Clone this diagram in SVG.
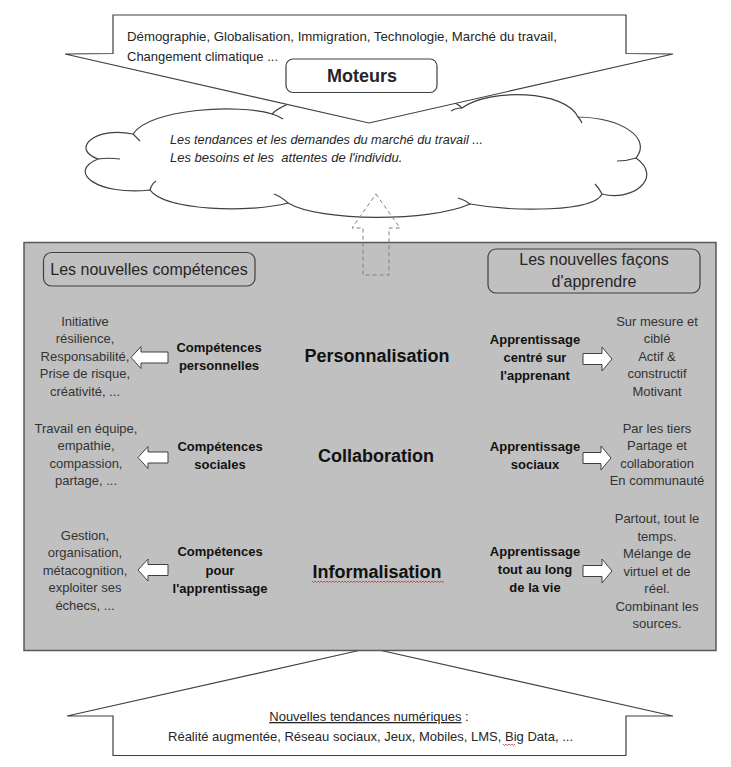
<svg xmlns="http://www.w3.org/2000/svg" width="731" height="767" viewBox="0 0 731 767">
<style>
  text { font-family: "Liberation Sans", Arial, sans-serif; fill: #262626; }
  .ln { fill: none; stroke: #404040; stroke-width: 1.2; }
  .wf { fill: #ffffff; stroke: #404040; stroke-width: 1.2; }
  .sm { font-size: 13px; }
  .li { font-size: 13px; text-anchor: middle; fill: #333333; }
  .lb { font-size: 13px; font-weight: bold; text-anchor: middle; fill: #111111; }
  .mid { font-size: 18px; font-weight: bold; text-anchor: middle; fill: #111111; }
  .hd { font-size: 16px; text-anchor: middle; fill: #262626; }
  .sq { fill: none; stroke: #d03030; stroke-width: 0.8; }
  .arr { fill: #ffffff; stroke: #404040; stroke-width: 1; }
</style>
<rect x="0" y="0" width="731" height="767" fill="#ffffff"/>

<g id="cloud">
  <path class="wf" d="M133,134 C150,108 240,104 272,114 C300,85 440,85 462,108 C490,88 565,90 578,117 C622,118 652,138 636,158 C664,178 632,202 602,194 C594,212 515,212 470,204 C430,222 320,222 288,203 C250,213 165,211 150,190 C98,196 66,172 98,159 C70,149 95,126 133,134 Z"/>
  <path class="ln" d="M272,114 C276,115 280,117 283,119 M462,108 C458,108 454,109 451,111 M578,117 C580,119 581,121 582,123 M636,158 C630,160 624,161 617,161 M602,194 C600,190 598,187 595,184 M470,204 C466,201 462,199 458,198 M288,203 C284,199 279,196 274,194 M150,190 C151,186 153,183 156,181 M98,159 C105,158 112,158 120,159 M133,134 C135,136 137,138 140,141"/>
  <text class="sm" x="170" y="144" font-style="italic" textLength="313" lengthAdjust="spacingAndGlyphs">Les tendances et les demandes du marché du travail ...</text>
  <text class="sm" x="170" y="162" font-style="italic" xml:space="preserve">Les besoins et les  attentes de l'individu.</text>
</g>

<g id="moteurs-arrow">
  <polygon class="wf" points="113,15 626,15 626,53.5 673,54 369,123 65,54 113,53.5"/>
  <text class="sm" x="127" y="41" textLength="430" lengthAdjust="spacingAndGlyphs">Démographie, Globalisation, Immigration, Technologie, Marché du travail,</text>
  <text class="sm" x="127" y="61">Changement climatique ...</text>
</g>

<g id="moteurs">
  <rect class="wf" x="286" y="59" width="151" height="33.5" rx="7"/>
  <text x="362" y="82" text-anchor="middle" font-size="18" font-weight="bold" fill="#111111">Moteurs</text>
</g>

<g id="numerique-arrow">
  <polygon class="wf" points="370,648 673,716 626,716 626,755.5 113,755.5 113,716 67,716"/>
  <text class="sm" x="369" y="721" text-anchor="middle"><tspan text-decoration="underline">Nouvelles tendances numériques</tspan> :</text>
  <text class="sm" x="168" y="741" textLength="405" lengthAdjust="spacingAndGlyphs">Réalité augmentée, Réseau sociaux, Jeux, Mobiles, LMS, Big Data, ...</text>
  <path class="sq" d="M503,744 l1.5,1.5 l1.5,-1.5 l1.5,1.5 l1.5,-1.5 l1.5,1.5 l1.5,-1.5 l1.5,1.5 l1.5,-1.5"/>
</g>

<g id="panel">
  <rect x="24" y="242.5" width="692" height="408" fill="#c0c0c0" stroke="#595959" stroke-width="1.5"/>
</g>

<g id="nouvelles-competences">
  <rect class="ln" x="43.5" y="252.5" width="211.5" height="33.5" rx="8"/>
  <text class="hd" x="149" y="275">Les nouvelles compétences</text>
</g>

<g id="nouvelles-facons">
  <rect class="ln" x="488" y="249" width="212" height="44" rx="8"/>
  <text class="hd" x="594" y="265">Les nouvelles façons</text>
  <text class="hd" x="594" y="287">d'apprendre</text>
</g>

<g id="row-personnalisation">
  <text class="li"><tspan x="85" y="325.5">Initiative</tspan><tspan x="85" y="343">résilience,</tspan><tspan x="85" y="360.5">Responsabilité,</tspan><tspan x="85" y="378">Prise de risque,</tspan><tspan x="85" y="395.5">créativité, ...</tspan></text>
  <text class="lb"><tspan x="219" y="351.5">Compétences</tspan><tspan x="219" y="369.5">personnelles</tspan></text>
  <text class="mid" x="377" y="361.5">Personnalisation</text>
  <text class="lb"><tspan x="535" y="343.5">Apprentissage</tspan><tspan x="535" y="361.5">centré sur</tspan><tspan x="535" y="379.5">l'apprenant</tspan></text>
  <text class="li"><tspan x="657" y="325.5">Sur mesure et</tspan><tspan x="657" y="343">ciblé</tspan><tspan x="657" y="360.5">Actif &amp;</tspan><tspan x="657" y="378">constructif</tspan><tspan x="657" y="395.5">Motivant</tspan></text>
</g>

<g id="row-collaboration">
  <text class="li"><tspan x="86" y="432.5">Travail en équipe,</tspan><tspan x="86" y="450">empathie,</tspan><tspan x="86" y="467.5">compassion,</tspan><tspan x="86" y="485">partage, ...</tspan></text>
  <text class="lb"><tspan x="220" y="451">Compétences</tspan><tspan x="220" y="469">sociales</tspan></text>
  <text class="mid" x="376" y="461.5">Collaboration</text>
  <text class="lb"><tspan x="535" y="451">Apprentissage</tspan><tspan x="535" y="469">sociaux</tspan></text>
  <text class="li"><tspan x="657" y="432.5">Par les tiers</tspan><tspan x="657" y="450">Partage et</tspan><tspan x="657" y="467.5">collaboration</tspan><tspan x="657" y="485">En communauté</tspan></text>
</g>

<g id="row-informalisation">
  <text class="li"><tspan x="85" y="539.5">Gestion,</tspan><tspan x="85" y="557">organisation,</tspan><tspan x="85" y="574.5">métacognition,</tspan><tspan x="85" y="592">exploiter ses</tspan><tspan x="85" y="609.5">échecs, ...</tspan></text>
  <text class="lb"><tspan x="220" y="556">Compétences</tspan><tspan x="220" y="574.5">pour</tspan><tspan x="220" y="593">l'apprentissage</tspan></text>
  <text class="mid" x="377" y="577.5">Informalisation</text>
  <path class="sq" d="M312,581 l1.5,1.5 l1.5,-1.5 l1.5,1.5 l1.5,-1.5 l1.5,1.5 l1.5,-1.5 l1.5,1.5 l1.5,-1.5 l1.5,1.5 l1.5,-1.5 l1.5,1.5 l1.5,-1.5 l1.5,1.5 l1.5,-1.5 l1.5,1.5 l1.5,-1.5 l1.5,1.5 l1.5,-1.5 l1.5,1.5 l1.5,-1.5 l1.5,1.5 l1.5,-1.5 l1.5,1.5 l1.5,-1.5 l1.5,1.5 l1.5,-1.5 l1.5,1.5 l1.5,-1.5 l1.5,1.5 l1.5,-1.5 l1.5,1.5 l1.5,-1.5 l1.5,1.5 l1.5,-1.5 l1.5,1.5 l1.5,-1.5 l1.5,1.5 l1.5,-1.5 l1.5,1.5 l1.5,-1.5 l1.5,1.5 l1.5,-1.5 l1.5,1.5 l1.5,-1.5 l1.5,1.5 l1.5,-1.5 l1.5,1.5 l1.5,-1.5 l1.5,1.5 l1.5,-1.5 l1.5,1.5 l1.5,-1.5 l1.5,1.5 l1.5,-1.5 l1.5,1.5 l1.5,-1.5 l1.5,1.5 l1.5,-1.5 l1.5,1.5 l1.5,-1.5 l1.5,1.5 l1.5,-1.5 l1.5,1.5 l1.5,-1.5 l1.5,1.5 l1.5,-1.5 l1.5,1.5 l1.5,-1.5 l1.5,1.5 l1.5,-1.5 l1.5,1.5 l1.5,-1.5 l1.5,1.5 l1.5,-1.5 l1.5,1.5 l1.5,-1.5 l1.5,1.5 l1.5,-1.5 l1.5,1.5 l1.5,-1.5 l1.5,1.5 l1.5,-1.5 l1.5,1.5 l1.5,-1.5 l1.5,1.5 l1.5,-1.5 l1.5,1.5 l1.5,-1.5"/>
  <text class="lb"><tspan x="535" y="556">Apprentissage</tspan><tspan x="535" y="574">tout au long</tspan><tspan x="535" y="592">de la vie</tspan></text>
  <text class="li"><tspan x="657" y="523">Partout, tout le</tspan><tspan x="657" y="540.5">temps.</tspan><tspan x="657" y="558">Mélange de</tspan><tspan x="657" y="575.5">virtuel et de</tspan><tspan x="657" y="593">réel.</tspan><tspan x="657" y="610.5">Combinant les</tspan><tspan x="657" y="628">sources.</tspan></text>
</g>

<g id="connectors">
  <polygon points="376,194 400,228 389,228 389,275 363,275 363,228 352,228" fill="none" stroke="#808080" stroke-width="1" stroke-dasharray="4,3"/>
  <polygon class="arr" points="131,357.5 141,346.5 141,352 168,352 168,363 141,363 141,368.5"/>
  <polygon class="arr" points="612,359 602,347 602,353.5 583,353.5 583,364.5 602,364.5 602,371"/>
  <polygon class="arr" points="138,457.5 148,446.5 148,452 168,452 168,463 148,463 148,468.5"/>
  <polygon class="arr" points="611,458 601,446 601,452.5 583,452.5 583,463.5 601,463.5 601,470"/>
  <polygon class="arr" points="138,570 148,559 148,564.5 168,564.5 168,575.5 148,575.5 148,581"/>
  <polygon class="arr" points="612,571 602,559 602,565.5 583,565.5 583,576.5 602,576.5 602,583"/>
</g>
</svg>
